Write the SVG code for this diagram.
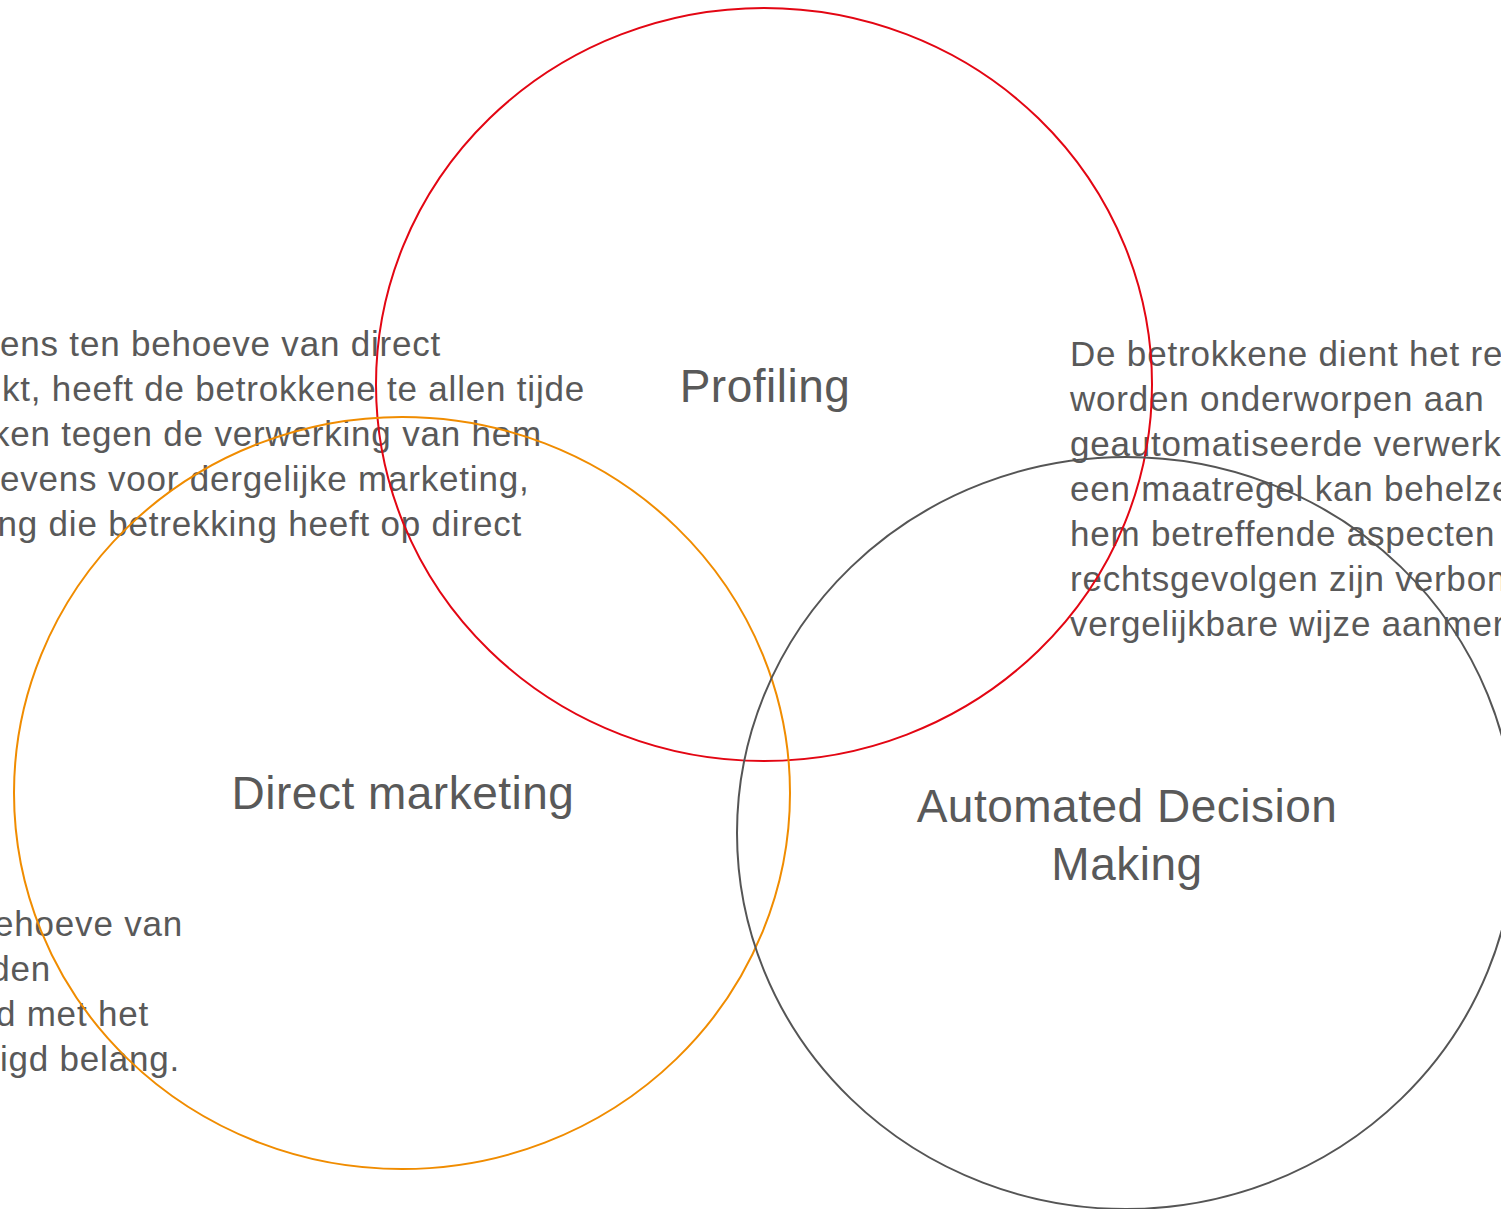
<svg xmlns="http://www.w3.org/2000/svg" width="1501" height="1209" viewBox="0 0 1501 1209">
<style>
.body{font-family:"Liberation Sans",Arial,sans-serif;font-size:35px;letter-spacing:0.8px;fill:#595959}
.lbl{font-family:"Liberation Sans",Arial,sans-serif;font-size:46px;letter-spacing:0.5px;fill:#595959;text-anchor:middle}
.end{text-anchor:end}
.ring{fill:none;stroke-width:2}
</style>
<rect width="1501" height="1209" fill="#ffffff"/>
<g id="text-top-left">
<text class="body" x="0" y="356">ens ten behoeve van direct</text>
<text class="body" x="2" y="401">kt, heeft de betrokkene te allen tijde</text>
<text class="body end" x="542" y="446">ken tegen de verwerking van hem</text>
<text class="body" x="0" y="491">evens voor dergelijke marketing,</text>
<text class="body end" x="522" y="536">ng die betrekking heeft op direct</text>
</g>
<g id="text-right">
<text class="body" x="1070" y="366">De betrokkene dient het re</text>
<text class="body" x="1070" y="411">worden onderworpen aan</text>
<text class="body" x="1070" y="456">geautomatiseerde verwerk</text>
<text class="body" x="1070" y="501">een maatregel kan behelze</text>
<text class="body" x="1070" y="546">hem betreffende aspecten</text>
<text class="body" x="1070" y="591">rechtsgevolgen zijn verbon</text>
<text class="body" x="1070" y="636">vergelijkbare wijze aanmer</text>
</g>
<g id="text-bottom-left">
<text class="body end" x="183" y="936">ehoeve van</text>
<text class="body end" x="51" y="981">den</text>
<text class="body end" x="149" y="1026">d met het</text>
<text class="body end" x="180" y="1071">igd belang.</text>
</g>
<g id="profiling">
<ellipse class="ring" cx="764" cy="384.5" rx="388" ry="376.5" stroke="#E30613"/>
<text class="lbl" x="765" y="402">Profiling</text>
</g>
<g id="direct-marketing">
<ellipse class="ring" cx="402" cy="793" rx="388" ry="376" stroke="#F08C00"/>
<text class="lbl" x="403" y="809">Direct marketing</text>
</g>
<g id="automated-decision-making">
<ellipse class="ring" cx="1126" cy="833" rx="389" ry="376" stroke="#555555"/>
<text class="lbl" x="1127" y="822">Automated Decision</text>
<text class="lbl" x="1127" y="880">Making</text>
</g>
</svg>
